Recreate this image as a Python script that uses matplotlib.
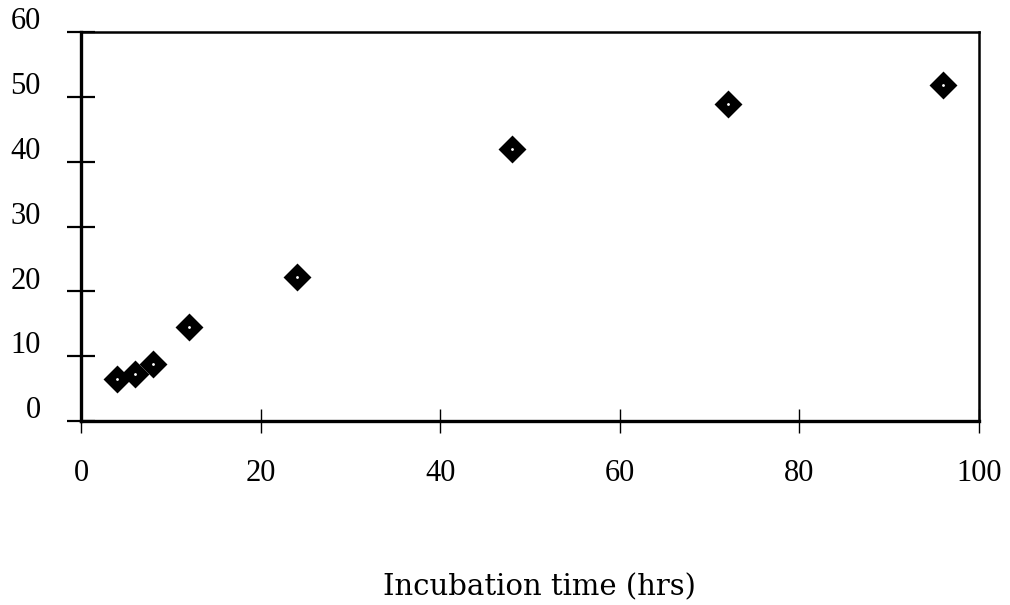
import matplotlib
matplotlib.use("Agg")
import matplotlib.pyplot as plt
import matplotlib.transforms as mtransforms

plt.rcParams['font.family'] = ['Liberation Serif', 'DejaVu Serif']

# incubation time (hrs) and measured value
hours = [4, 6, 8, 12, 24, 48, 72, 96]
values = [6.5, 7.3, 8.8, 14.5, 22.2, 42.0, 48.9, 51.9]

x_ticks = [0, 20, 40, 60, 80, 100]
y_ticks = [0, 10, 20, 30, 40, 50, 60]

fig = plt.figure(figsize=(10.1, 6.05), dpi=100)
ax = fig.add_axes([0.0802, 0.3041, 0.8891, 0.643])

ax.plot(hours, values, linestyle='none', marker='D', markersize=12,
        color='black', markeredgewidth=2, markeredgecolor='black')
ax.plot(hours, values, linestyle='none', marker='.', markersize=2, color='white')

ax.set_xlim(0, 100)
ax.set_ylim(0, 60)
ax.set_xticks(x_ticks)
ax.set_yticks(y_ticks)

for side in ['left', 'bottom']:
    ax.spines[side].set_linewidth(2.4)
for side in ['top', 'right']:
    ax.spines[side].set_linewidth(1.8)

ax.tick_params(axis='x', direction='inout', length=17, width=1.0, pad=19, labelsize=22)
ax.tick_params(axis='y', direction='inout', length=20, width=1.6, pad=19, labelsize=22)

for lab in ax.get_yticklabels():
    lab.set_verticalalignment('baseline')
    lab.set_transform(lab.get_transform() + mtransforms.ScaledTranslation(0, 2 / 72, fig.dpi_scale_trans))

ax.set_xlabel('Incubation time (hrs)', fontsize=21, labelpad=61, family='DejaVu Serif')
ax.xaxis.label.set_x(0.51)

fig.savefig('out.png', dpi=100)
